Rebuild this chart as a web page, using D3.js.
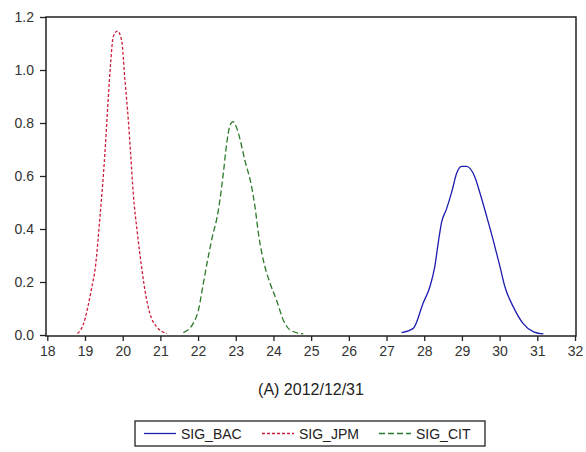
<!DOCTYPE html>
<html><head><meta charset="utf-8">
<script src="https://cdn.jsdelivr.net/npm/d3@7"></script>
<style>body{margin:0;background:#fff}svg{display:block}text{font-family:"Liberation Sans",Arial,sans-serif}</style>
</head><body><svg id="c" width="586" height="452"></svg>
<script>
const seriesNames = ["SIG_BAC","SIG_JPM","SIG_CIT"];
const bacX = [27.40,27.71,27.97,28.15,28.28,28.37,28.46,28.59,28.73,28.86,28.99,29.12,29.34,29.48,29.66,29.83,30.01,30.14,30.36,30.62,30.89,31.16];
const bacY = [0.009,0.025,0.12,0.182,0.258,0.346,0.425,0.475,0.540,0.61,0.636,0.636,0.597,0.535,0.446,0.358,0.258,0.182,0.107,0.044,0.013,0.004];
const jpmX = [18.80,18.95,19.18,19.27,19.40,19.47,19.53,19.62,19.68,19.75,19.86,19.97,20.06,20.15,20.21,20.28,20.39,20.50,20.62,20.72,20.90,21.17];
const jpmY = [0.006,0.038,0.18,0.25,0.45,0.57,0.69,0.90,1.025,1.126,1.147,1.113,0.962,0.81,0.686,0.535,0.384,0.258,0.145,0.082,0.031,0.006];
const citX = [21.61,21.87,22.01,22.14,22.27,22.40,22.49,22.58,22.67,22.76,22.85,22.93,23.07,23.24,23.42,23.51,23.60,23.73,23.91,24.08,24.26,24.44,24.79];
const citY = [0.009,0.044,0.094,0.195,0.295,0.384,0.434,0.51,0.61,0.723,0.792,0.805,0.761,0.66,0.56,0.484,0.384,0.283,0.195,0.132,0.057,0.019,0.004];
const xTicks = d3.range(18,33,1);
const yTicks = [0,0.2,0.4,0.6,0.8,1.0,1.2];
const title = "(A) 2012/12/31";

const svg = d3.select("#c");
const L=46,R=576,T=17,B=336;
const x = d3.scaleLinear().domain([18,32]).range([47.3,575]);
const y = d3.scaleLinear().domain([0,1.2]).range([335,17]);

svg.append("rect").attr("x",L).attr("y",T).attr("width",R-L).attr("height",B-T)
  .attr("fill","none").attr("stroke","#222").attr("stroke-width",1.5);

const yAxis = svg.append("g").attr("transform",`translate(${L},0)`)
  .call(d3.axisLeft(y).tickValues(yTicks).tickFormat(d3.format(".1f")).tickSize(6).tickPadding(6));
const xAxis = svg.append("g").attr("transform",`translate(0,${B})`)
  .call(d3.axisBottom(x).tickValues(xTicks).tickFormat(d3.format("d")).tickSize(5).tickPadding(5));
[yAxis,xAxis].forEach(g=>{
  g.select(".domain").remove();
  g.selectAll("line").attr("stroke","#222").attr("stroke-width",1.3);
  g.selectAll("text").attr("fill","#333").style("font-size","14px").style("font-family",'"Liberation Sans",Arial,sans-serif');
});

const line = d3.line().x(d=>x(d[0])).y(d=>y(d[1])).curve(d3.curveMonotoneX);
const series = [
  {name:seriesNames[0], xs:bacX, ys:bacY, color:"#1c1cb0", dash:null},
  {name:seriesNames[1], xs:jpmX, ys:jpmY, color:"#d01c3c", dash:"3,2"},
  {name:seriesNames[2], xs:citX, ys:citY, color:"#2a7a2a", dash:"6,3"}
];
series.forEach(s=>{
  svg.append("path").datum(s.xs.map((v,i)=>[v,s.ys[i]])).attr("d",line)
    .attr("fill","none").attr("stroke",s.color).attr("stroke-width",1.3)
    .attr("stroke-dasharray",s.dash);
});

svg.append("text").attr("x",(L+R)/2).attr("y",395).attr("text-anchor","middle")
  .attr("fill","#222").style("font-size","16px").text(title);

svg.append("rect").attr("x",135).attr("y",421).attr("width",350).attr("height",25)
  .attr("fill","#fff").attr("stroke","#222").attr("stroke-width",1.3);
const lx=[144,262,379];
series.forEach((s,i)=>{
  svg.append("line").attr("x1",lx[i]).attr("x2",lx[i]+32).attr("y1",433.5).attr("y2",433.5)
    .attr("stroke",s.color).attr("stroke-width",1.3).attr("stroke-dasharray",s.dash);
  svg.append("text").attr("x",lx[i]+37).attr("y",438.5).attr("fill","#222")
    .style("font-size","14px").text(s.name);
});
</script></body></html>
